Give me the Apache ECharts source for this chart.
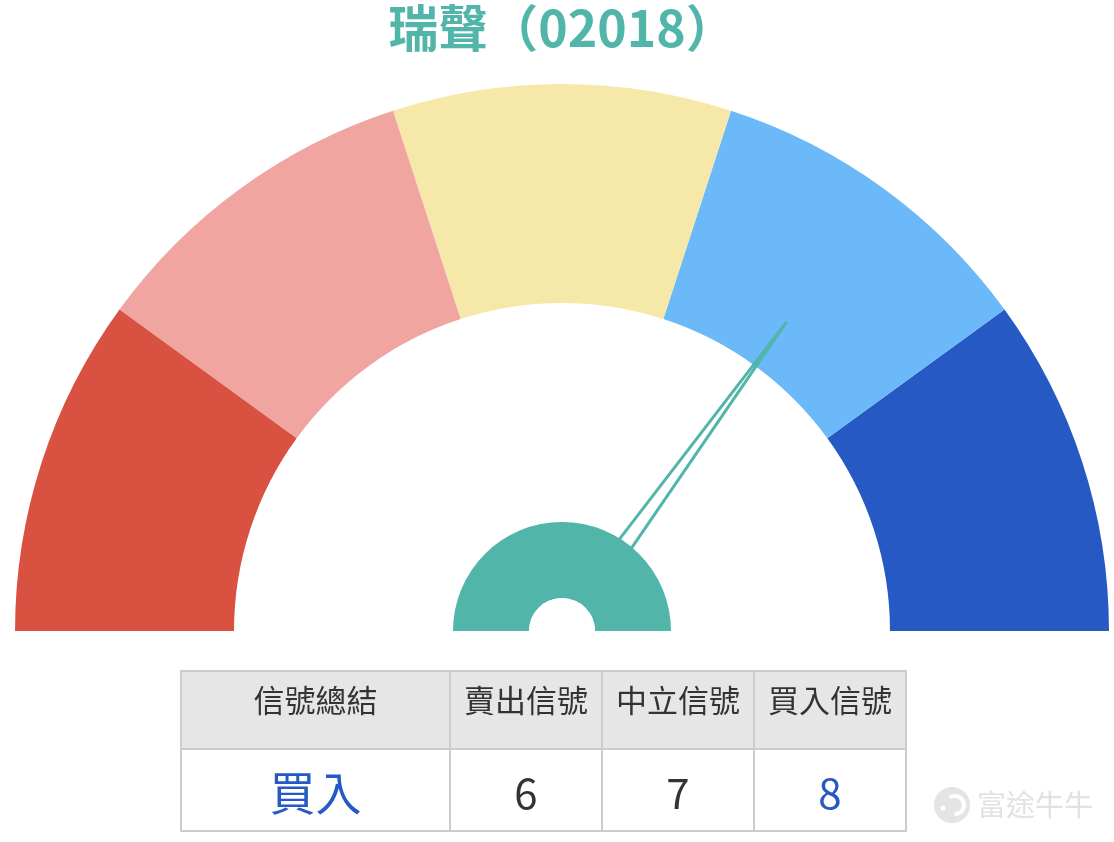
<!DOCTYPE html>
<html>
<head>
<meta charset="utf-8">
<script src="https://cdn.jsdelivr.net/npm/echarts@6/dist/echarts.min.js"></script>
<style>
html,body{margin:0;padding:0;background:#fff;}
#main{width:1114px;height:842px;}
</style>
</head>
<body>
<div id="main"></div>
<script>
// ---- data ----
var chartTitle = '瑞聲（02018）';
var gaugeValue = 70;
var gaugeBands = [0.2, 0.4, 0.6, 0.8, 1];
var tableHeaders = ['信號總結', '賣出信號', '中立信號', '買入信號'];
var tableValues = ['買入', '6', '7', '8'];
var watermarkText = '富途牛牛';

// ---- styles ----
var bandColors = ['#d95241', '#f0a5a0', '#f6e8a9', '#6bb9f8', '#2659c4'];
var teal = '#52b5aa';
var valueColors = ['#2659c4', '#333333', '#333333', '#2659c4'];
var font = '"Noto Sans CJK TC", "Noto Sans", sans-serif';

var chart = echarts.init(document.getElementById('main'));

var cx = 562, cy = 631;
var colX = [181, 450, 602, 754, 906];
var rowY = [671, 749, 831];

var graphics = [];
for (var i = 0; i < 4; i++) {
  graphics.push({
    type: 'rect',
    shape: {x: colX[i], y: rowY[0], width: colX[i+1]-colX[i], height: rowY[1]-rowY[0]},
    style: {fill: '#e6e6e6', stroke: '#cccccc', lineWidth: 2}
  });
  graphics.push({
    type: 'rect',
    shape: {x: colX[i], y: rowY[1], width: colX[i+1]-colX[i], height: rowY[2]-rowY[1]},
    style: {fill: '#ffffff', stroke: '#cccccc', lineWidth: 2}
  });
  graphics.push({
    type: 'text',
    x: (colX[i]+colX[i+1])/2, y: (rowY[0]+rowY[1])/2 - 10,
    style: {text: tableHeaders[i], fill: '#333333', font: '31px ' + font, align: 'center', verticalAlign: 'middle'}
  });
  graphics.push({
    type: 'text',
    x: (colX[i]+colX[i+1])/2, y: (rowY[1]+rowY[2])/2 + 3,
    style: {text: tableValues[i], fill: valueColors[i], font: (i === 0 ? '46px ' : '42px ') + font, align: 'center', verticalAlign: 'middle'}
  });
}
// white hole at the hub centre, covering the pointer base
graphics.push({type: 'circle', z: 100, shape: {cx: cx, cy: cy, r: 33}, style: {fill: '#ffffff'}});
// watermark logo (approximation)
graphics.push({type: 'circle', shape: {cx: 952, cy: 805, r: 18}, style: {fill: '#e4e4e4'}});
graphics.push({type: 'arc', shape: {cx: 955, cy: 805, r: 9, startAngle: -2.2, endAngle: 1.6}, style: {stroke: '#ffffff', lineWidth: 4, fill: null}});
graphics.push({type: 'circle', shape: {cx: 943, cy: 808, r: 2.5}, style: {fill: '#ffffff'}});
graphics.push({
  type: 'text', x: 977, y: 805,
  style: {text: watermarkText, fill: '#e2e2e2', font: '29px ' + font, align: 'left', verticalAlign: 'middle'}
});

var axisColors = gaugeBands.map(function (b, i) { return [b, bandColors[i]]; });

chart.setOption({
  backgroundColor: '#ffffff',
  title: {
    text: chartTitle,
    left: 557, top: -2, textAlign: 'center',
    textStyle: {color: teal, fontSize: 50, fontWeight: 'bold', fontFamily: font}
  },
  series: [
    {
      type: 'gauge',
      center: [cx, cy],
      radius: 547,
      startAngle: 180,
      endAngle: 0,
      min: 0,
      max: 100,
      axisLine: {lineStyle: {width: 219, color: axisColors}},
      splitLine: {show: false},
      axisTick: {show: false},
      axisLabel: {show: false},
      pointer: {
        show: true,
        icon: 'path://M10,0 L20,100 L0,100 Z',
        length: 382,
        width: 21,
        itemStyle: {color: 'rgba(0,0,0,0)', borderColor: teal, borderWidth: 3}
      },
      anchor: {show: false},
      title: {show: false},
      detail: {show: false},
      data: [{value: gaugeValue}]
    },
    {
      type: 'gauge',
      z: 5,
      center: [cx, cy],
      radius: 109,
      startAngle: 180,
      endAngle: 0,
      axisLine: {lineStyle: {width: 76, color: [[1, teal]]}},
      splitLine: {show: false},
      axisTick: {show: false},
      axisLabel: {show: false},
      pointer: {show: false},
      anchor: {show: false},
      title: {show: false},
      detail: {show: false},
      data: []
    }
  ],
  graphic: graphics
});
</script>
</body>
</html>
